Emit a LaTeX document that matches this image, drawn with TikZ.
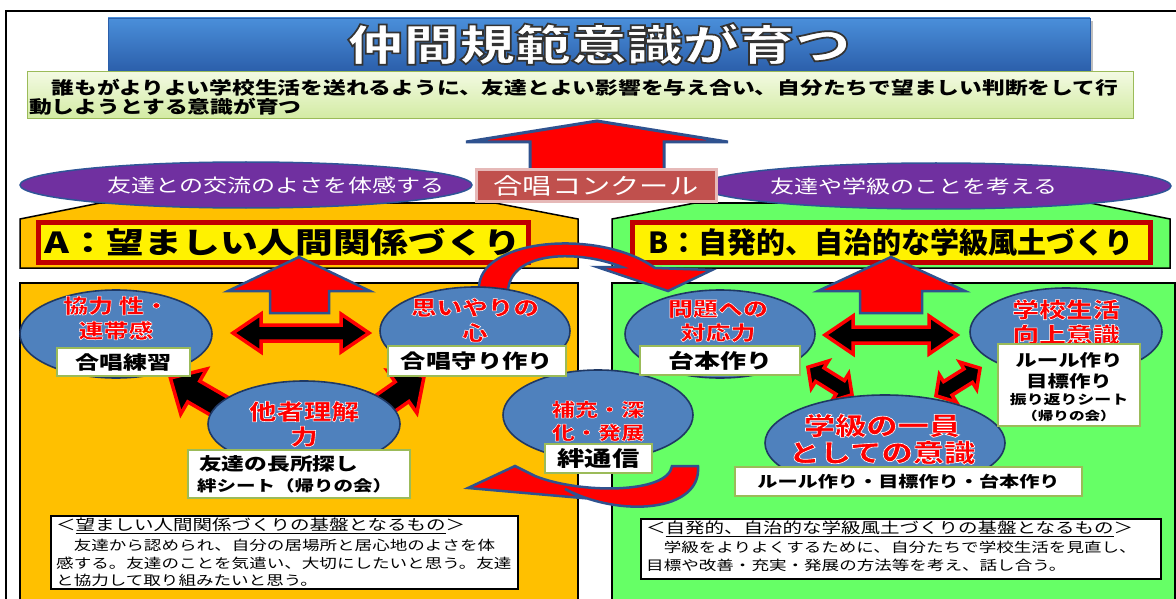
\documentclass[tikz,border=0pt]{standalone}
\usepackage{fontspec}
\usetikzlibrary{shapes.geometric,calc}
\newfontfamily\cjk[FakeStretch=1.3]{Noto Sans CJK JP}
\newfontfamily\cjkn{Noto Sans CJK JP}
\newfontfamily\cjkol[FakeStretch=1.25,FakeBold=2.5]{Noto Sans CJK JP}
\newfontfamily\cjkolt[FakeStretch=1.3,FakeBold=4]{Noto Sans CJK JP}
\definecolor{panelAc}{HTML}{FFC000}
\definecolor{panelBc}{HTML}{66FF66}
\definecolor{ellfill}{HTML}{4F81BD}
\definecolor{elldraw}{HTML}{1F3864}
\definecolor{labelline}{HTML}{9BBB59}
\definecolor{purp}{HTML}{7030A0}
\definecolor{purpline}{HTML}{2F5597}
\definecolor{choirc}{HTML}{C0504D}
\definecolor{choirline}{HTML}{E6B9B8}
\definecolor{arrowline}{HTML}{2F528F}
\definecolor{darkredc}{HTML}{C00000}
\definecolor{bannerTop}{HTML}{4A8FDA}
\definecolor{bannerBot}{HTML}{2B5EAA}
\definecolor{subTop}{HTML}{F3FAE3}
\definecolor{subBot}{HTML}{D3EBA3}
% fill colour #1, outline colour #2
\newcommand\outl[3]{\special{pdf:bcolor [#1] [#2]}#3\special{pdf:ecolor}}
\newcommand\dblArrow[8]{% name, cx, cy, angle, L, H, W, S
  \begin{scope}[shift={(#2,#3)},rotate=#4]
    \draw[blkarrow] (-#5,0) -- (-#5+#6,#7) -- (-#5+#6,#8) -- (#5-#6,#8) -- (#5-#6,#7) -- (#5,0)
      -- (#5-#6,-#7) -- (#5-#6,-#8) -- (-#5+#6,-#8) -- (-#5+#6,-#7) -- cycle;
    \coordinate (#1) at (0,0);
  \end{scope}}
\newcommand\oneArrow[8]{% name, cx, cy, angle, L, H, W, S
  \begin{scope}[shift={(#2,#3)},rotate=#4]
    \draw[blkarrow] (-#5,#8) -- (#5-#6,#8) -- (#5-#6,#7) -- (#5,0) -- (#5-#6,-#7) -- (#5-#6,-#8) -- (-#5,-#8) -- cycle;
    \coordinate (#1) at (0,0);
  \end{scope}}
\tikzset{
  ellnode/.style={ellipse, draw=elldraw, line width=1.6, fill=ellfill, inner sep=0},
  lblbox/.style={draw=labelline, line width=2.5, fill=white, inner sep=0},
  lbltext/.style={inner sep=0, text=black, font=\cjk\bfseries},
  redtxt/.style={text=red, align=center, inner sep=0},
  blkarrow/.style={draw=red, line width=3.5, fill=black, line join=miter},
  uparrowst/.style={draw=arrowline, fill=red, line width=2.5, line join=miter},
  purpell/.style={ellipse, fill=purp, draw=purpline, line width=1.5, inner sep=0},
  purptext/.style={text=white, inner sep=0, font=\cjk\fontsize{18.5}{20}\selectfont},
  notebox/.style={draw=black, line width=2, fill=white, inner sep=0},
  notetext/.style={inner sep=0, align=left, anchor=north west},
}
\begin{document}
\begin{tikzpicture}[x=1pt,y=-1pt]
\useasboundingbox (0,0) rectangle (1176,599);
\fill[white] (0,0) rectangle (1176,599);
% outer frame
\draw[line width=2] (6,605) -- (6,11) -- (1182,11);
% panels
\draw[fill=panelAc, line width=1.5] (20,219) -- (100,203) -- (495,203) -- (578,219) -- (578,268) -- (20,268) -- cycle;
\draw[fill=panelBc, line width=1.5] (612,219) -- (695,203) -- (1090,203) -- (1170,219) -- (1170,268) -- (612,268) -- cycle;
\draw[fill=panelAc, line width=1.5] (20,283) rectangle (578,606);
\draw[fill=panelBc, line width=1.5] (612,283) rectangle (1175,606);
% title banner
\fill[black!25] (111,21) rectangle (1093,75);
\node[top color=bannerTop, bottom color=bannerBot, draw=bannerBot, line width=0.8, minimum width=982, minimum height=54, inner sep=0] (banner) at (599,45) {};
\node[font=\cjkolt\bfseries\fontsize{43}{43}\selectfont, text=white, inner sep=0] (title) at (599,44) {\outl{1 1 1}{0.2 0.2 0.2}{仲間規範意識が育つ}};
% subtitle
\node[top color=subTop, bottom color=subBot, draw=labelline, line width=1, minimum width=1106, minimum height=47, inner sep=0, anchor=north west] (sub) at (27,71) {};
\node[notetext, font=\cjk\bfseries\fontsize{17.5}{18.5}\selectfont] (subt) at (29,79) {　誰もがよりよい学校生活を送れるように、友達とよい影響を与え合い、自分たちで望ましい判断をして行\\動しようとする意識が育つ};
% big arrow
\draw[uparrowst, line width=3] (597,121) -- (728,142) -- (664,142) -- (664,185) -- (530,185) -- (530,142) -- (466,142) -- cycle;
% purple ellipses
\node[purpell, minimum width=452, minimum height=46] (pl) at (246,185) {};
\node[purpell, minimum width=470, minimum height=46] (pr) at (936,186) {};
\node[purptext] (plt) at (276,185) {友達との交流のよさを体感する};
\node[purptext] (prt) at (914,186) {友達や学級のことを考える};
\node[fill=choirc, draw=choirline, line width=3, minimum width=240, minimum height=32, inner sep=0, text=white, font=\cjk\fontsize{22.5}{24}\selectfont] (choir) at (596,186) {合唱コンクール};
% A / B labels
\node[fill=yellow, draw=darkredc, line width=5, minimum width=490, minimum height=40, inner sep=0, font=\cjk\bfseries\fontsize{29}{30}\selectfont] (la) at (283,242) {A：望ましい人間関係づくり};
\node[fill=yellow, draw=darkredc, line width=5, minimum width=518, minimum height=40, inner sep=0, font=\cjkn\bfseries\fontsize{29}{30}\selectfont] (lb) at (891,242) {B：自発的、自治的な学級風土づくり};
% red up arrows
\draw[uparrowst] (299,257) -- (370,291) -- (329,291) -- (329,313) -- (270,313) -- (270,291) -- (228,291) -- cycle;
\draw[uparrowst] (891,257) -- (965,291) -- (922,291) -- (922,313) -- (860,313) -- (860,291) -- (818,291) -- cycle;
% curved arrows
\draw[uparrowst] (479,290) .. controls (476,238) and (600,228) .. (655,268) -- (712,270) -- (668,291) -- (597,267) -- (622,267) .. controls (580,250) and (512,250) .. (508,290) -- cycle;
\draw[uparrowst] (698,466) .. controls (702,512) and (620,518) .. (565,489) -- (582,498) -- (468,488) -- (515,466) -- (535,476) .. controls (580,494) and (668,494) .. (672,466) -- cycle;
% black arrows
\dblArrow{da1}{301}{333}{0}{68}{28}{19}{8}
\dblArrow{da2}{891}{335}{0}{66}{28}{19}{8}
\dblArrow{da3}{830}{381}{-32}{26}{14}{16}{8}
\dblArrow{da4}{958}{382}{32}{26}{14}{16}{8}
\oneArrow{sa1}{205}{398}{150}{40}{27}{26}{12}
\oneArrow{sa2}{393}{398}{35}{38}{27}{26}{12}
% blue ellipses
\node[ellnode, minimum width=192, minimum height=88] (e1) at (116,334) {};
\node[ellnode, minimum width=190, minimum height=88] (e2) at (475,331) {};
\node[ellnode, minimum width=192, minimum height=86] (e3) at (304,424) {};
\node[ellnode, minimum width=190, minimum height=90] (e4) at (598,415) {};
\node[ellnode, minimum width=190, minimum height=88] (e5) at (720,334) {};
\node[ellnode, minimum width=192, minimum height=88] (e6) at (1066,332) {};
\node[ellnode, minimum width=240, minimum height=96] (e7) at (885,443) {};
% red texts with white outline
\node[redtxt, font=\cjkol\bfseries\fontsize{20}{25}\selectfont] (t1) at (116,318) {\outl{1 0 0}{1 1 1}{協力 性・\\連帯感}};
\node[redtxt, font=\cjkol\bfseries\fontsize{20.5}{25}\selectfont] (t2) at (475,320) {\outl{1 0 0}{1 1 1}{思いやりの\\心}};
\node[redtxt, font=\cjkol\bfseries\fontsize{22}{25}\selectfont] (t3) at (304,424) {\outl{1 0 0}{1 1 1}{他者理解\\力}};
\node[redtxt, font=\cjkol\bfseries\fontsize{18.5}{23}\selectfont] (t4) at (598,421) {\outl{1 0 0}{1 1 1}{補充・深\\化・発展}};
\node[redtxt, font=\cjkol\bfseries\fontsize{20}{24}\selectfont] (t5) at (718,321) {\outl{1 0 0}{1 1 1}{問題への\\対応力}};
\node[redtxt, font=\cjkol\bfseries\fontsize{21.5}{25}\selectfont] (t6) at (1066,322) {\outl{1 0 0}{1 1 1}{学校生活\\向上意識}};
\node[redtxt, font=\cjkol\bfseries\fontsize{25}{27}\selectfont] (t7) at (882,439) {\outl{1 0 0}{1 1 1}{学級の一員\\としての意識}};
% label boxes
\node[lblbox, minimum width=133, minimum height=28] (l1) at (123.5,362) {};
\node[lbltext, font=\cjk\bfseries\fontsize{18.5}{20}\selectfont] (l1t) at (l1) {合唱練習};
\node[lblbox, minimum width=178, minimum height=30] (l2) at (477,361) {};
\node[lbltext, font=\cjk\bfseries\fontsize{19.5}{20}\selectfont] (l2t) at (l2) {合唱守り作り};
\node[lblbox, minimum width=222, minimum height=48] (l3) at (299,474) {};
\node[lbltext, anchor=west, font=\cjk\bfseries\fontsize{17.5}{20}\selectfont] (l3a) at (199,464) {友達の長所探し};
\node[lbltext, anchor=west, font=\cjk\bfseries\fontsize{15}{18}\selectfont] (l3b) at (197,486) {絆シート（帰りの会）};
\node[lblbox, minimum width=107, minimum height=29] (l4) at (598.5,458.5) {};
\node[lbltext, font=\cjk\bfseries\fontsize{21}{22}\selectfont] (l4t) at (l4) {絆通信};
\node[lblbox, minimum width=160, minimum height=29] (l5) at (720,360.5) {};
\node[lbltext, font=\cjk\bfseries\fontsize{20}{22}\selectfont] (l5t) at (l5) {台本作り};
\node[lblbox, minimum width=142, minimum height=82] (l6) at (1069,385) {};
\node[lbltext, font=\cjk\bfseries\fontsize{16.5}{18}\selectfont] (l6a) at (1069,360) {ルール作り};
\node[lbltext, font=\cjk\bfseries\fontsize{16.5}{18}\selectfont] (l6b) at (1069,381) {目標作り};
\node[lbltext, font=\cjk\bfseries\fontsize{13}{15}\selectfont] (l6c) at (1069,400) {振り返りシート};
\node[lbltext, font=\cjk\bfseries\fontsize{12}{14}\selectfont] (l6d) at (1069,416) {（帰りの会）};
\node[lblbox, minimum width=347, minimum height=29] (l7) at (908.5,481.5) {};
\node[lbltext, font=\cjk\bfseries\fontsize{15.5}{18}\selectfont] (l7t) at (l7) {ルール作り・目標作り・台本作り};
% bottom notes
\node[notebox, minimum width=467, minimum height=73, anchor=north west] (nl) at (50,515) {};
\node[notetext, font=\cjk\fontsize{15}{18}\selectfont] (nlt) at (56,518) {＜\underline{望ましい人間関係づくりの基盤となるもの}＞};
\node[notetext, font=\cjk\fontsize{13.5}{17.5}\selectfont] (nlb) at (56,539) {　友達から認められ、自分の居場所と居心地のよさを体\\感する。友達のことを気遣い、大切にしたいと思う。友達\\と協力して取り組みたいと思う。};
\node[notebox, minimum width=520, minimum height=60, anchor=north west] (nr) at (640,518) {};
\node[notetext, font=\cjk\fontsize{15}{18}\selectfont] (nrt) at (646,521) {＜\underline{自発的、自治的な学級風土づくりの基盤となるもの}＞};
\node[notetext, font=\cjk\fontsize{13.5}{17.5}\selectfont] (nrb) at (646,541) {　学級をよりよくするために、自分たちで学校生活を見直し、\\目標や改善・充実・発展の方法等を考え、話し合う。};
\end{tikzpicture}
\end{document}
